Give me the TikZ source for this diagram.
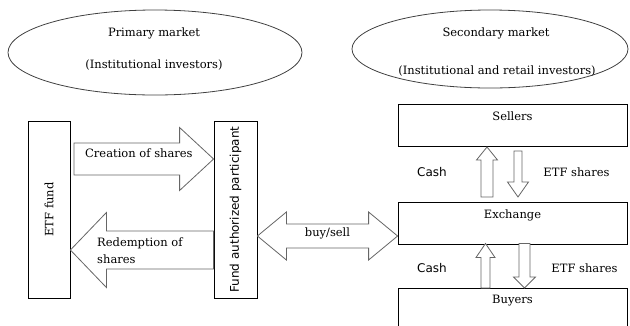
\documentclass[tikz,border=0pt]{standalone}
\usepackage{fontspec}
\setmainfont{DejaVu Serif}
\setsansfont{DejaVu Sans}
\usetikzlibrary{calc}
\tikzset{
  box/.style={draw=black, line width=0.8pt, inner sep=0pt, fill=white},
  ovl/.style={draw=black!75, line width=0.8pt},
  lab/.style={font=\fontsize{11.5}{13}\selectfont, inner sep=0pt},
  slab/.style={font=\sffamily\fontsize{12}{14}\selectfont, inner sep=0pt},
  blk/.style={draw=black!60, line width=0.8pt, fill=white, line join=miter},
}
% #1 tail, #2 tip, #3 shaft half width, #4 head half width, #5 head length (pt)
\newcommand\blockarrow[5]{%
  \path ($(#2)!#5pt!(#1)$) coordinate (hb);
  \draw[blk] ($(#1)!#3pt!90:(#2)$) -- ($(hb)!#3pt!-90:(#1)$) -- ($(hb)!#4pt!-90:(#1)$)
    -- (#2) -- ($(hb)!#4pt!90:(#1)$) -- ($(hb)!#3pt!90:(#1)$) -- ($(#1)!#3pt!-90:(#2)$) -- cycle;
}
% double arrow: #1 tip A, #2 tip B, #3 shaft half, #4 head half, #5 head length (pt)
\newcommand\dblarrow[5]{%
  \path ($(#1)!#5pt!(#2)$) coordinate (ha) ($(#2)!#5pt!(#1)$) coordinate (hbb);
  \draw[blk] (#1) -- ($(ha)!#4pt!90:(#2)$) -- ($(ha)!#3pt!90:(#2)$) -- ($(hbb)!#3pt!-90:(#1)$)
    -- ($(hbb)!#4pt!-90:(#1)$) -- (#2) -- ($(hbb)!#4pt!90:(#1)$) -- ($(hbb)!#3pt!90:(#1)$)
    -- ($(ha)!#3pt!-90:(#2)$) -- ($(ha)!#4pt!-90:(#2)$) -- cycle;
}
\begin{document}
\begin{tikzpicture}[x=1pt, y=-1pt]
\useasboundingbox (0,0) rectangle (630,325);
\clip (0,0) rectangle (630,325);
% ellipses
\draw[ovl] (155,52.5) ellipse [x radius=147, y radius=42.5];
\node[lab] (pm1) at (154,33) {Primary market};
\node[lab] (pm2) at (154,65) {(Institutional investors)};
\draw[ovl] (490,49) ellipse [x radius=138, y radius=39];
\node[lab] (sm1) at (496,33) {Secondary market};
\node[lab] (sm2) at (497,71) {(Institutional and retail investors)};

% boxes
\node[box, minimum width=42, minimum height=177] (etf) at (49,209.5) {};
\node[lab, rotate=90] (etft) at (etf.center) {ETF fund};
\node[box, minimum width=43, minimum height=177] (fap) at (235.5,209.5) {};
\node[slab, rotate=90] (fapt) at (fap.center) {Fund authorized participant};
\node[box, minimum width=229, minimum height=42] (sel) at (512.5,125) {};
\node[lab] (selt) at ([yshift=-13]sel.north) {Sellers};
\node[box, minimum width=229, minimum height=42] (exc) at (512.5,223) {};
\node[lab] (exct) at ([yshift=-14]exc.north) {Exchange};
\node[box, minimum width=229, minimum height=50] (buy) at (512.5,313) {};
\node[lab] (buyt) at ([yshift=-13]buy.north) {Buyers};

% creation / redemption
\coordinate (cr0) at (74,159);
\coordinate (cr1) at (fap.west |- cr0);
\blockarrow{cr0}{cr1}{16}{31.5}{34}
\node[lab, anchor=west] (crt) at (85,153) {Creation of shares};
\coordinate (rd0) at (fap.west |- 0,250);
\coordinate (rd1) at (etf.east |- rd0);
\blockarrow{rd0}{rd1}{19}{37.5}{36}
\node[lab, anchor=west, align=left, font=\fontsize{11.5}{17}\selectfont] (rdt) at (97,250.5) {Redemption of\\shares};

% buy/sell
\coordinate (bs0) at (fap.east |- 0,236);
\coordinate (bs1) at (exc.west |- bs0);
\dblarrow{bs0}{bs1}{12}{24}{29}
\node[lab] (bst) at (327.5,233) {buy/sell};

% sellers <-> exchange
\coordinate (ca0) at (487,197);
\coordinate (ca1) at (487,147);
\blockarrow{ca0}{ca1}{6}{10.5}{13}
\coordinate (es0) at (518,151);
\coordinate (es1) at (518,197);
\blockarrow{es0}{es1}{4}{10.5}{15}
\node[slab] (cat1) at (432,172) {Cash};
\node[lab] (est1) at (576.5,172) {ETF shares};

% exchange <-> buyers
\coordinate (cb0) at (485.5,288);
\coordinate (cb1) at (485.5,243.5);
\blockarrow{cb0}{cb1}{4.5}{9.5}{14}
\coordinate (eb0) at (524.5,243.5);
\coordinate (eb1) at (524.5,288);
\blockarrow{eb0}{eb1}{5.5}{11}{11}
\node[slab] (cat2) at (432,268) {Cash};
\node[lab] (est2) at (584.5,268) {ETF shares};
\end{tikzpicture}
\end{document}
